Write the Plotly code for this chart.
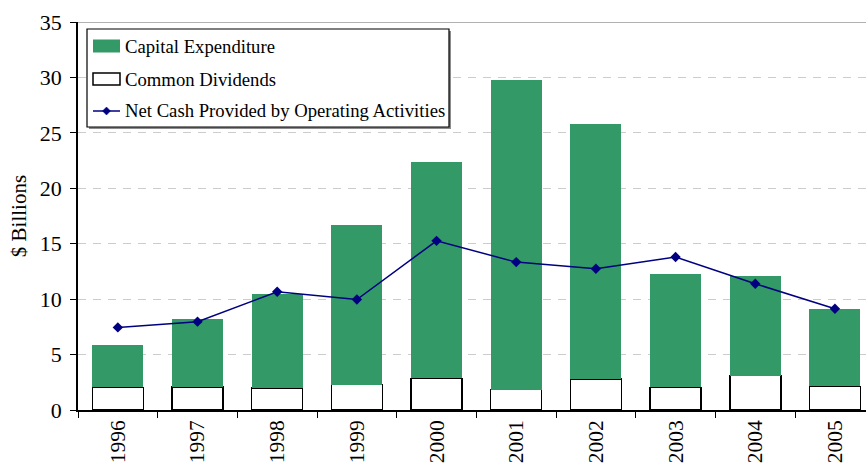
import plotly.graph_objects as go

years = ["1996", "1997", "1998", "1999", "2000", "2001", "2002", "2003", "2004", "2005"]
common_dividends = [2.05, 2.07, 2.0, 2.28, 2.85, 1.83, 2.8, 2.04, 3.1, 2.13]
capital_expenditure = [3.8, 6.13, 8.45, 14.42, 19.53, 27.93, 23.0, 10.26, 9.03, 7.02]
net_cash_operating = [7.45, 7.97, 10.67, 9.97, 15.26, 13.34, 12.74, 13.8, 11.39, 9.14]

legend_labels = ["Capital Expenditure", "Common Dividends",
                 "Net Cash Provided by Operating Activities"]

FONT = "Liberation Serif"
GREEN = "#339966"
NAVY = "#000080"

W, H = 867, 467
ML, MR, MT, MB = 78, 1, 22, 57
PW, PH = W - ML - MR, H - MT - MB


def px(x):
    return (x - ML) / PW


def py(y):
    return (H - MB - y) / PH


fig = go.Figure()

fig.add_trace(go.Bar(
    x=years, y=common_dividends, name=legend_labels[1],
    marker=dict(color="white", line=dict(color="black", width=1.5)),
    width=0.64,
))
fig.add_trace(go.Bar(
    x=years, y=capital_expenditure, name=legend_labels[0],
    marker=dict(color=GREEN, line=dict(width=0)),
    width=0.64,
))
fig.add_trace(go.Scatter(
    x=years, y=net_cash_operating, name=legend_labels[2],
    mode="lines+markers",
    line=dict(color=NAVY, width=1.5),
    marker=dict(symbol="diamond", size=8, color=NAVY),
))

shapes = []
annotations = []

# top frame line of the plot area
shapes.append(dict(type="line", xref="paper", yref="y", x0=0, x1=1, y0=35, y1=35,
                   line=dict(color="#999999", width=1.5)))

# legend box with its drop shadow
box = (87, 29, 449, 127)
shapes.append(dict(type="rect", xref="paper", yref="paper",
                   x0=px(box[0] + 2), x1=px(box[2] + 2), y0=py(box[3] + 2), y1=py(box[1] + 2),
                   line=dict(width=0), fillcolor="#8c8c8c", layer="above"))
shapes.append(dict(type="rect", xref="paper", yref="paper",
                   x0=px(box[0]), x1=px(box[2]), y0=py(box[3]), y1=py(box[1]),
                   line=dict(color="black", width=1.2), fillcolor="white", layer="above"))

# legend keys
row_y = [46, 79, 111]
key_x0, key_x1 = 93, 120
shapes.append(dict(type="rect", xref="paper", yref="paper",
                   x0=px(key_x0), x1=px(key_x1), y0=py(row_y[0] + 6.5), y1=py(row_y[0] - 6.5),
                   line=dict(width=0), fillcolor=GREEN, layer="above"))
shapes.append(dict(type="rect", xref="paper", yref="paper",
                   x0=px(key_x0), x1=px(key_x1), y0=py(row_y[1] + 6), y1=py(row_y[1] - 6),
                   line=dict(color="black", width=1.5), fillcolor="white", layer="above"))
shapes.append(dict(type="line", xref="paper", yref="paper",
                   x0=px(key_x0), x1=px(key_x1), y0=py(row_y[2]), y1=py(row_y[2]),
                   line=dict(color=NAVY, width=1.5), layer="above"))
cx, cy, r = (key_x0 + key_x1) / 2, row_y[2], 4
shapes.append(dict(type="path", xref="paper", yref="paper", layer="above",
                   path=(f"M {px(cx - r)},{py(cy)} L {px(cx)},{py(cy - r)} "
                         f"L {px(cx + r)},{py(cy)} L {px(cx)},{py(cy + r)} Z"),
                   fillcolor=NAVY, line=dict(color=NAVY, width=0.5)))

for label, yy in zip(legend_labels, row_y):
    annotations.append(dict(text=label, xref="paper", yref="paper",
                            x=px(123), y=py(yy), xanchor="left", yanchor="middle",
                            showarrow=False,
                            font=dict(family=FONT, size=18.7, color="black")))

fig.update_layout(
    width=W, height=H,
    margin=dict(l=ML, r=MR, t=MT, b=MB),
    paper_bgcolor="white", plot_bgcolor="white",
    barmode="stack",
    font=dict(family=FONT, size=21, color="black"),
    showlegend=False,
    shapes=shapes,
    annotations=annotations,
    xaxis=dict(
        type="category", range=[-0.5, 9.39],
        showline=True, linecolor="black", linewidth=1.5,
        ticks="outside", tickson="boundaries", ticklen=6, tickcolor="black",
        tickangle=-90, showgrid=False,
        tickfont=dict(family=FONT, size=21.5, color="black"),
    ),
    yaxis=dict(
        range=[0, 35], dtick=5, tick0=0,
        showline=True, linecolor="black", linewidth=1.5,
        ticks="outside", ticklen=6, tickcolor="black",
        ticklabelstandoff=4,
        showgrid=True, gridcolor="#cccccc", gridwidth=1, griddash="8px,7px",
        zeroline=False,
        tickfont=dict(family=FONT, size=22, color="black"),
        title=dict(text="$ Billions", font=dict(family=FONT, size=21, color="black"), standoff=7),
    ),
)

fig.write_html("out.html")
